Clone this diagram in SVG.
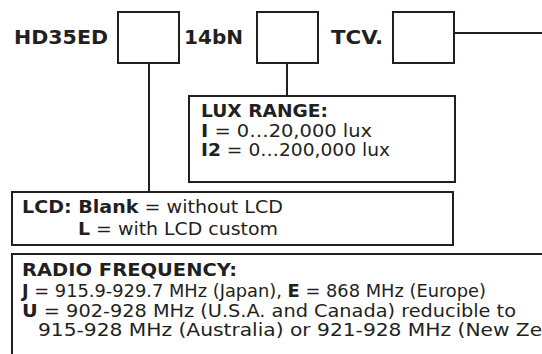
<svg xmlns="http://www.w3.org/2000/svg" width="542" height="354" viewBox="0 0 542 354">
<style>
text{font-family:"DejaVu Sans","Verdana",sans-serif;fill:#231f20;}
.code{font-size:20px;font-weight:bold;}
.t{font-size:17.5px;}
.b{font-weight:bold;}
.box{fill:#fff;stroke:#231f20;stroke-width:2;}
.ln{stroke:#231f20;stroke-width:2;fill:none;}
</style>
<rect width="542" height="354" fill="#fff"/>
<g id="connectors">
<line class="ln" x1="454" y1="33" x2="542" y2="33"/>
<line class="ln" x1="149" y1="63" x2="149" y2="192"/>
<line class="ln" x1="287" y1="63" x2="287" y2="96"/>
</g>
<g id="code">
<text class="code" x="14" y="44" textLength="94" lengthAdjust="spacingAndGlyphs">HD35ED</text>
<text class="code" x="184" y="44" textLength="59" lengthAdjust="spacingAndGlyphs">14bN</text>
<text class="code" x="331" y="44" textLength="52" lengthAdjust="spacingAndGlyphs">TCV.</text>
</g>
<g id="slot1"><rect class="box" x="118" y="12" width="61" height="51"/></g>
<g id="slot2"><rect class="box" x="257" y="12" width="61" height="51"/></g>
<g id="slot3"><rect class="box" x="393" y="12" width="61" height="51"/></g>
<g id="lux">
<rect class="box" x="189" y="96" width="266" height="86"/>
<text class="t b" x="201" y="117" textLength="127" lengthAdjust="spacingAndGlyphs">LUX RANGE:</text>
<text class="t" x="201" y="137" textLength="171" lengthAdjust="spacingAndGlyphs"><tspan class="b">I</tspan> = 0…20,000 lux</text>
<text class="t" x="201" y="156" textLength="189" lengthAdjust="spacingAndGlyphs"><tspan class="b">I2</tspan> = 0…200,000 lux</text>
</g>
<g id="lcd">
<rect class="box" x="12" y="192" width="441" height="53"/>
<text class="t" x="22" y="213" textLength="261" lengthAdjust="spacingAndGlyphs"><tspan class="b">LCD: Blank</tspan> = without LCD</text>
<text class="t" x="78" y="235" textLength="200" lengthAdjust="spacingAndGlyphs"><tspan class="b">L</tspan> = with LCD custom</text>
</g>
<g id="radio">
<rect class="box" x="12" y="254" width="545" height="120"/>
<text class="t b" x="22" y="276" textLength="215" lengthAdjust="spacingAndGlyphs">RADIO FREQUENCY:</text>
<text class="t" x="22" y="297" textLength="464" lengthAdjust="spacingAndGlyphs"><tspan class="b">J</tspan> = 915.9-929.7 MHz (Japan), <tspan class="b">E</tspan> = 868 MHz (Europe)</text>
<text class="t" x="22" y="317" textLength="494" lengthAdjust="spacingAndGlyphs"><tspan class="b">U</tspan> = 902-928 MHz (U.S.A. and Canada) reducible to</text>
<text class="t" x="38" y="336" textLength="568" lengthAdjust="spacingAndGlyphs">915-928 MHz (Australia) or 921-928 MHz (New Zealand)</text>
</g>
</svg>
